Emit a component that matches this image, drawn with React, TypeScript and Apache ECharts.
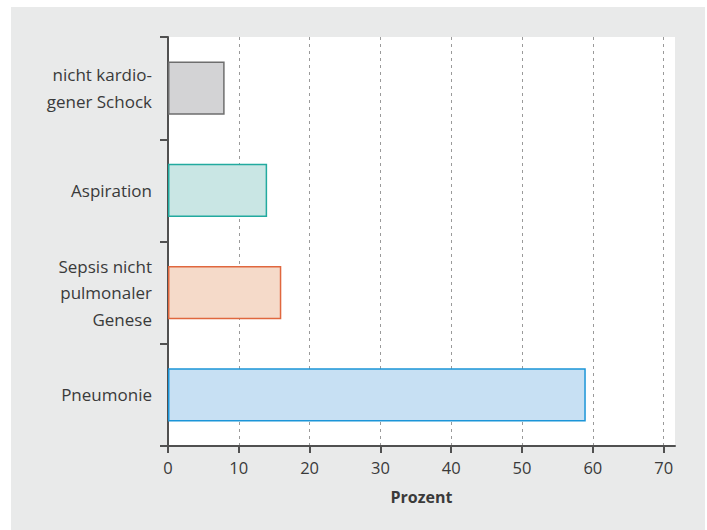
import React, { useEffect, useRef } from "react";
import * as echarts from "echarts";

const categories = [
  "nicht kardio-\ngener Schock",
  "Aspiration",
  "Sepsis nicht\npulmonaler\nGenese",
  "Pneumonie",
];
const values = [8, 14, 16, 59];
const fillColors = ["#d3d3d5", "#c9e6e4", "#f5dac9", "#c7e0f3"];
const borderColors = ["#6e6e6e", "#22aa9f", "#e0673e", "#1b95d8"];
const xTicks = [0, 10, 20, 30, 40, 50, 60, 70];
const xAxisName = "Prozent";

const FONT = "'Open Sans', 'Noto Sans', sans-serif";
const TEXT = "#3a3a3a";

export default function App() {
  const ref = useRef<HTMLDivElement>(null);
  useEffect(() => {
    if (!ref.current) return;
    const chart = echarts.init(ref.current, undefined, { renderer: "svg" });
    chart.setOption({
      animation: false,
      graphic: [
        {
          type: "rect",
          z: -10,
          silent: true,
          shape: { x: 11, y: 7, width: 694, height: 523 },
          style: { fill: "#e9eaea" },
        },
      ],
      grid: {
        left: 168,
        top: 37,
        right: 32,
        bottom: 84,
        show: true,
        backgroundColor: "#ffffff",
        borderWidth: 0,
        containLabel: false,
      },
      xAxis: {
        type: "value",
        min: 0,
        max: 71.6,
        interval: 10,
        name: xAxisName,
        nameLocation: "middle",
        nameGap: 43,
        nameTextStyle: { fontFamily: FONT, fontSize: 16, fontWeight: "bold", color: TEXT },
        axisLine: { show: true, lineStyle: { color: "#505050", width: 2 } },
        axisTick: {
          show: true,
          length: 7,
          customValues: xTicks,
          lineStyle: { color: "#505050", width: 2 },
        },
        axisLabel: {
          customValues: xTicks,
          margin: 13,
          fontFamily: FONT,
          fontSize: 16.5,
          color: TEXT,
        },
        splitLine: {
          show: true,
          showMinLine: false,
          showMaxLine: true,
          lineStyle: { color: "#9a9a9a", type: [3, 4], width: 1 },
        },
      },
      yAxis: {
        type: "category",
        data: categories,
        inverse: true,
        axisLine: { show: true, lineStyle: { color: "#505050", width: 2 } },
        axisTick: { show: true, length: 8, lineStyle: { color: "#505050", width: 2 } },
        axisLabel: {
          margin: 16,
          fontFamily: FONT,
          fontSize: 17,
          lineHeight: 26.5,
          color: TEXT,
          align: "right",
        },
        splitLine: { show: false },
      },
      series: [
        {
          type: "bar",
          barWidth: "52%",
          data: values.map((v, i) => ({
            value: v,
            itemStyle: {
              color: fillColors[i],
              borderColor: borderColors[i],
              borderWidth: 1.5,
            },
          })),
        },
      ],
    });
    return () => chart.dispose();
  }, []);
  return (
    <div
      ref={ref}
      style={{ position: "absolute", left: 0, top: 0, width: 707, height: 530, background: "#ffffff" }}
    />
  );
}
